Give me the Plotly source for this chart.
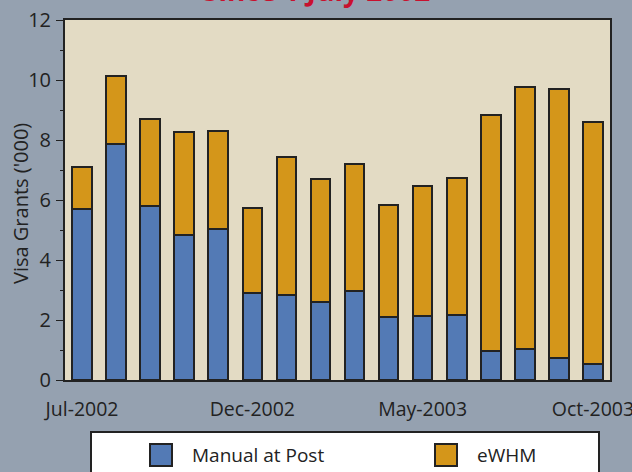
import plotly.graph_objects as go

months = ["Jul-2002", "Aug-2002", "Sep-2002", "Oct-2002", "Nov-2002", "Dec-2002",
          "Jan-2003", "Feb-2003", "Mar-2003", "Apr-2003", "May-2003", "Jun-2003",
          "Jul-2003", "Aug-2003", "Sep-2003", "Oct-2003"]
manual_at_post = [5.70, 7.87, 5.80, 4.82, 5.03, 2.90, 2.85, 2.59, 2.98, 2.09, 2.12, 2.17,
                  0.98, 1.02, 0.72, 0.55]
ewhm_total = [7.09, 10.14, 8.70, 8.28, 8.31, 5.75, 7.45, 6.70, 7.20, 5.84, 6.48, 6.73,
              8.83, 9.77, 9.71, 8.61]
ewhm = [round(t - m, 2) for t, m in zip(ewhm_total, manual_at_post)]
tick_labels = ["Jul-2002", "Dec-2002", "May-2003", "Oct-2003"]

BLUE = "#537AB5"
ORANGE = "#D4961A"
EDGE = "#222222"
PAPER = "#95A1B0"
PLOT = "#E3DBC4"
FONT = "Open Sans"

fig = go.Figure()
fig.add_trace(go.Bar(x=months, y=manual_at_post, name="Manual at Post",
                     marker=dict(color=BLUE, line=dict(color=EDGE, width=2)),
                     showlegend=False))
fig.add_trace(go.Bar(x=months, y=ewhm, name="eWHM",
                     marker=dict(color=ORANGE, line=dict(color=EDGE, width=2)),
                     showlegend=False))

fig.update_layout(
    width=632, height=472,
    margin=dict(l=65, r=22, t=20, b=92),
    barmode="stack", bargap=0.425,
    paper_bgcolor=PAPER, plot_bgcolor=PLOT,
    font=dict(family=FONT, color="#222222", size=19),
    xaxis=dict(type="category", tickmode="array", tickvals=tick_labels, ticktext=tick_labels,
               range=[-0.5, 15.5], showline=True, linecolor=EDGE, linewidth=2, mirror=True,
               ticks="", showgrid=False, tickfont=dict(size=19.5), ticklabelstandoff=11,
               automargin=False),
    yaxis=dict(range=[0, 12], dtick=2, showline=True, linecolor=EDGE, linewidth=2, mirror=True,
               ticks="outside", ticklen=7, tickwidth=1, tickcolor=EDGE, showgrid=False,
               zeroline=False, tickfont=dict(size=20), ticklabelstandoff=1,
               minor=dict(ticks="outside", ticklen=3, dtick=1, tickcolor=EDGE, showgrid=False),
               automargin=False),
    annotations=[
        dict(text="<b>Since 1 July 2002</b>", xref="paper", yref="paper", x=0.462, y=1.024,
             xanchor="center", yanchor="bottom", showarrow=False,
             font=dict(size=28, color="#C8102E", family=FONT)),
        dict(text="Visa Grants ('000)", xref="paper", yref="paper", x=(20 - 65) / 545,
             y=(380 - 204) / 360, xanchor="center", yanchor="middle", textangle=-90,
             showarrow=False, font=dict(size=20)),
        dict(text="Manual at Post", xref="paper", yref="paper", x=(190 - 65) / 545,
             y=(380 - 455) / 360, xanchor="left", yanchor="middle", showarrow=False,
             font=dict(size=19)),
        dict(text="eWHM", xref="paper", yref="paper", x=(475 - 65) / 545,
             y=(380 - 455) / 360, xanchor="left", yanchor="middle", showarrow=False,
             font=dict(size=19)),
    ],
    shapes=[
        dict(type="rect", xref="paper", yref="paper", x0=(91 - 65) / 545, x1=(599 - 65) / 545,
             y0=(380 - 480) / 360, y1=(380 - 432) / 360,
             fillcolor="white", line=dict(color=EDGE, width=2)),
        dict(type="rect", xref="paper", yref="paper", x0=(150 - 65) / 545, x1=(172 - 65) / 545,
             y0=(380 - 466) / 360, y1=(380 - 444) / 360,
             fillcolor=BLUE, line=dict(color=EDGE, width=2)),
        dict(type="rect", xref="paper", yref="paper", x0=(435 - 65) / 545, x1=(457 - 65) / 545,
             y0=(380 - 466) / 360, y1=(380 - 444) / 360,
             fillcolor=ORANGE, line=dict(color=EDGE, width=2)),
    ],
)

fig.write_html("out.html", config={"displayModeBar": False},
               post_script="document.body.style.margin='0';document.body.style.background='#95A1B0';")
